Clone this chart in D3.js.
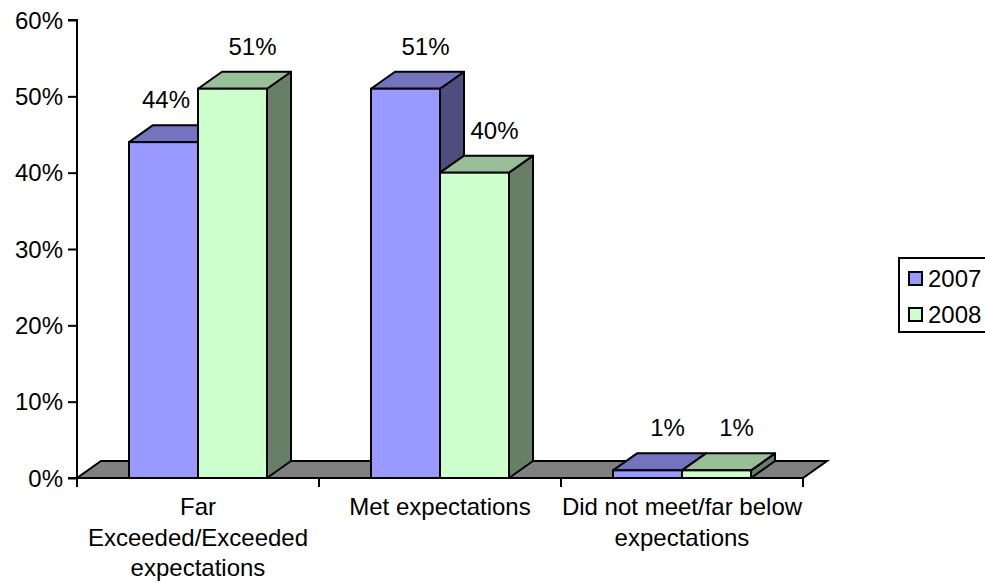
<!DOCTYPE html>
<html>
<head>
<meta charset="utf-8">
<script src="https://cdn.jsdelivr.net/npm/d3@7"></script>
<style>
  html, body { margin: 0; padding: 0; background: #fff; }
  svg { display: block; overflow: hidden; font-family: "Liberation Sans", Arial, sans-serif; }
</style>
</head>
<body>
<svg id="chart" width="985" height="583"></svg>
<script>
// ---- data ----
const categories = ["Far Exceeded/Exceeded expectations", "Met expectations", "Did not meet/far below expectations"];
const categoryLines = [["Far", "Exceeded/Exceeded", "expectations"], ["Met expectations"], ["Did not meet/far below", "expectations"]];
const seriesNames = ["2007", "2008"];
const values2007 = [44, 51, 1];
const values2008 = [51, 40, 1];
const yTicks = [0, 10, 20, 30, 40, 50, 60];

// ---- layout / style ----
const W = 985, H = 583;
const x0 = 77, x1 = 803, yTop = 20, yBase = 478;
const depthX = 24, depthY = -17;
const fontSize = 24;
const colors = {
  "2007": { front: "#9999FF", top: "#7373BF", side: "#4D4D80" },
  "2008": { front: "#CCFFCC", top: "#99BF99", side: "#667F66" }
};
const stroke = "#000", sw = 2;

const svg = d3.select("#chart");

const y = d3.scaleLinear().domain([0, 60]).range([yBase, yTop]);
const x = d3.scaleBand().domain(categories).range([x0, x1]).paddingInner(0).paddingOuter(0);
const xs = d3.scaleBand().domain(seriesNames).range([0, x.bandwidth()]).paddingInner(0).paddingOuter(0.7536);

const seriesValues = { "2007": values2007, "2008": values2008 };
const bars = [];
categories.forEach((c, i) => {
  seriesNames.forEach(s => {
    bars.push({ cat: c, ci: i, series: s, value: seriesValues[s][i] });
  });
});

// floor
const floorPts = [[x0, yBase], [x1, yBase], [x1 + depthX, yBase + depthY], [x0 + depthX, yBase + depthY]];
svg.append("polygon")
  .attr("points", floorPts.map(p => p.join(",")).join(" "))
  .attr("fill", "#808080").attr("stroke", stroke).attr("stroke-width", sw).attr("stroke-linejoin", "miter");

// y axis
const yAxis = d3.axisLeft(y).tickValues(yTicks).tickFormat(d => d + "%").tickSize(9).tickPadding(5);
const gy = svg.append("g").attr("transform", `translate(${x0},0)`).call(yAxis);
gy.select(".domain").attr("stroke", stroke).attr("stroke-width", sw).attr("d", `M-9,${yTop}H0V${yBase}H-9`);
gy.selectAll(".tick line").attr("stroke", stroke).attr("stroke-width", sw);
gy.selectAll(".tick text").attr("font-size", fontSize).attr("fill", "#000").attr("font-family", "Liberation Sans, Arial, sans-serif").attr("dy", "0.34em");

// category ticks
const tickXs = categories.map(c => x(c)).concat([x1]);
svg.selectAll("line.ctick").data(tickXs).enter().append("line")
  .attr("class", "ctick")
  .attr("x1", d => d).attr("x2", d => d)
  .attr("y1", yBase).attr("y2", yBase + 9)
  .attr("stroke", stroke).attr("stroke-width", sw);

// bars
const gBars = svg.append("g");
bars.forEach(b => {
  const bx0 = x(b.cat) + xs(b.series);
  const bx1 = bx0 + xs.bandwidth();
  const yt = y(b.value);
  const c = colors[b.series];
  const g = gBars.append("g");
  // side
  g.append("polygon")
    .attr("points", [[bx1, yt], [bx1 + depthX, yt + depthY], [bx1 + depthX, yBase + depthY], [bx1, yBase]].map(p => p.join(",")).join(" "))
    .attr("fill", c.side).attr("stroke", stroke).attr("stroke-width", sw).attr("stroke-linejoin", "round");
  // top
  g.append("polygon")
    .attr("points", [[bx0, yt], [bx1, yt], [bx1 + depthX, yt + depthY], [bx0 + depthX, yt + depthY]].map(p => p.join(",")).join(" "))
    .attr("fill", c.top).attr("stroke", stroke).attr("stroke-width", sw).attr("stroke-linejoin", "round");
  // front
  g.append("rect")
    .attr("x", bx0).attr("y", yt).attr("width", bx1 - bx0).attr("height", yBase - yt)
    .attr("fill", c.front).attr("stroke", stroke).attr("stroke-width", sw);
  b.bx0 = bx0; b.bx1 = bx1; b.yt = yt;
});

// the front edge of the floor (x axis) on top
svg.append("line").attr("x1", x0).attr("x2", x1).attr("y1", yBase).attr("y2", yBase)
  .attr("stroke", stroke).attr("stroke-width", sw);

// value labels
const gLab = svg.append("g");
bars.forEach((b, i) => {
  const t = gLab.append("text")
    .attr("font-size", fontSize).attr("fill", "#000").attr("text-anchor", "middle")
    .text(b.value + "%");
  const w = t.node().getComputedTextLength();
  let cx = (b.bx0 + b.bx1) / 2 + 20;
  const base = b.yt + depthY - 17;
  // avoid running into a taller neighbouring bar on the right
  const next = bars[i + 1];
  if (next && next.ci === b.ci && next.yt < base) {
    const maxRight = next.bx0 - 8;
    if (cx + w / 2 > maxRight) cx = maxRight - w / 2;
  }
  t.attr("x", cx).attr("y", base);
});

// category labels
const gCat = svg.append("g");
categories.forEach((c, i) => {
  const cx = x(c) + x.bandwidth() / 2;
  const t = gCat.append("text").attr("font-size", fontSize).attr("fill", "#000").attr("text-anchor", "middle");
  categoryLines[i].forEach((line, j) => {
    t.append("tspan").attr("x", cx).attr("y", 515 + j * 30.5).text(line);
  });
});

// legend
const lg = svg.append("g");
lg.append("rect").attr("x", 899).attr("y", 258).attr("width", 95).attr("height", 74)
  .attr("fill", "#fff").attr("stroke", stroke).attr("stroke-width", sw);
seriesNames.forEach((s, i) => {
  const yy = 272 + i * 36;
  lg.append("rect").attr("x", 909).attr("y", yy).attr("width", 13).attr("height", 13)
    .attr("fill", colors[s].front).attr("stroke", stroke).attr("stroke-width", sw);
  lg.append("text").attr("x", 928).attr("y", yy + 15).attr("font-size", fontSize).attr("fill", "#000").text(s);
});
</script>
</body>
</html>
